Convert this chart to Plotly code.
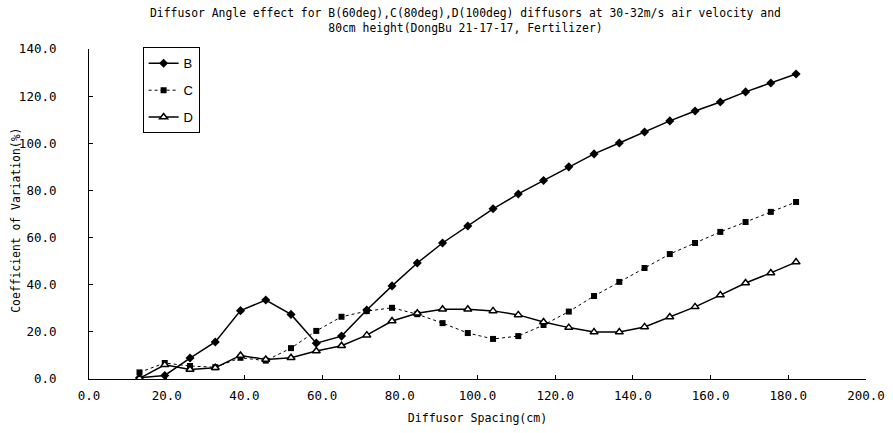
import plotly.graph_objects as go

spacing = [13, 19.5, 26, 32.5, 39, 45.5, 52, 58.5, 65, 71.5, 78, 84.5, 91, 97.5,
           104, 110.5, 117, 123.5, 130, 136.5, 143, 149.5, 156, 162.5, 169, 175.5, 182]
cv_B = [0.5, 1.5, 8.9, 15.7, 29.0, 33.5, 27.4, 15.2, 18.2, 29.3, 39.5, 49.2, 57.7, 64.9,
        72.2, 78.5, 84.2, 90.0, 95.5, 100.1, 104.8, 109.5, 113.7, 117.5, 121.8, 125.6, 129.4]
cv_C = [2.8, 6.8, 5.5, 5.0, 9.0, 7.8, 13.1, 20.4, 26.4, 28.8, 30.2, 27.5, 23.7, 19.5,
        17.0, 18.2, 22.9, 28.6, 35.2, 41.2, 47.1, 53.0, 57.7, 62.4, 66.6, 70.9, 75.1]
cv_D = [0.3, 6.0, 4.0, 4.8, 10.0, 8.3, 9.0, 11.9, 14.1, 18.6, 24.6, 27.9, 29.6, 29.6,
        28.9, 27.2, 24.2, 21.8, 19.9, 19.9, 22.1, 26.3, 30.6, 35.6, 40.7, 45.0, 49.6]

x_ticks = [0, 20, 40, 60, 80, 100, 120, 140, 160, 180, 200]
y_ticks = [0, 20, 40, 60, 80, 100, 120, 140]

title_text = ("Diffusor Angle effect for B(60deg),C(80deg),D(100deg) diffusors at 30-32m/s air velocity and"
              "<br>80cm height(DongBu 21-17-17, Fertilizer)")
y_title = "Coefficient of Variation(%)"

FONT = "DejaVu Sans Mono"

fig = go.Figure()
fig.add_trace(go.Scatter(x=spacing, y=cv_B, name="B", mode="lines+markers", legendgroup="B",
                         line=dict(color="black", width=1.5),
                         marker=dict(symbol="diamond", size=7, color="black")))
fig.add_trace(go.Scatter(x=spacing, y=cv_C, name="C", mode="lines+markers", legendgroup="C",
                         line=dict(color="black", width=1, dash="dot"),
                         marker=dict(symbol="square", size=6, color="black")))
fig.add_trace(go.Scatter(x=spacing, y=cv_D, name="D", mode="lines+markers", legendgroup="D",
                         line=dict(color="black", width=1.5),
                         marker=dict(symbol="triangle-up", size=7, color="white",
                                     line=dict(color="black", width=1.5))))

fig.update_layout(
    width=893, height=433,
    margin=dict(l=89, r=27, t=49, b=54),
    paper_bgcolor="white", plot_bgcolor="white",
    font=dict(family=FONT, size=12, color="black"),
    showlegend=True,
    legend=dict(x=0.069, y=1.005, xanchor="left", yanchor="top",
                bordercolor="black", borderwidth=1, bgcolor="white",
                font=dict(family="Liberation Sans", size=13), tracegroupgap=7,
                itemwidth=30),
    xaxis=dict(range=[0, 200], tickvals=x_ticks, tickformat=".1f", automargin=False,
               showgrid=False, zeroline=False, showline=True, linecolor="black", linewidth=1,
               ticks="inside", ticklen=4, tickcolor="black",
               tickfont=dict(family=FONT, size=12.5), ticklabelstandoff=5,
               title=dict(text="Diffusor Spacing(cm)", font=dict(family=FONT, size=11.6), standoff=11)),
    yaxis=dict(range=[0, 140], tickvals=y_ticks, tickformat=".1f", automargin=False,
               showgrid=False, zeroline=False, showline=True, linecolor="black", linewidth=1,
               ticks="inside", ticklen=4, tickcolor="black",
               tickfont=dict(family=FONT, size=12.5), ticklabelstandoff=29),
    annotations=[
        dict(text=title_text, xref="paper", yref="paper", x=0.485, y=1.135,
             xanchor="center", yanchor="top", showarrow=False, align="center",
             font=dict(family=FONT, size=11.4, color="black")),
        dict(text=y_title, xref="paper", yref="paper", x=-0.095, y=0.48,
             xanchor="center", yanchor="middle", showarrow=False, textangle=-90,
             font=dict(family=FONT, size=11.4, color="black")),
    ],
)

fig.write_html("out.html", config={"displayModeBar": False},
               post_script="document.body.style.margin='0px';")
